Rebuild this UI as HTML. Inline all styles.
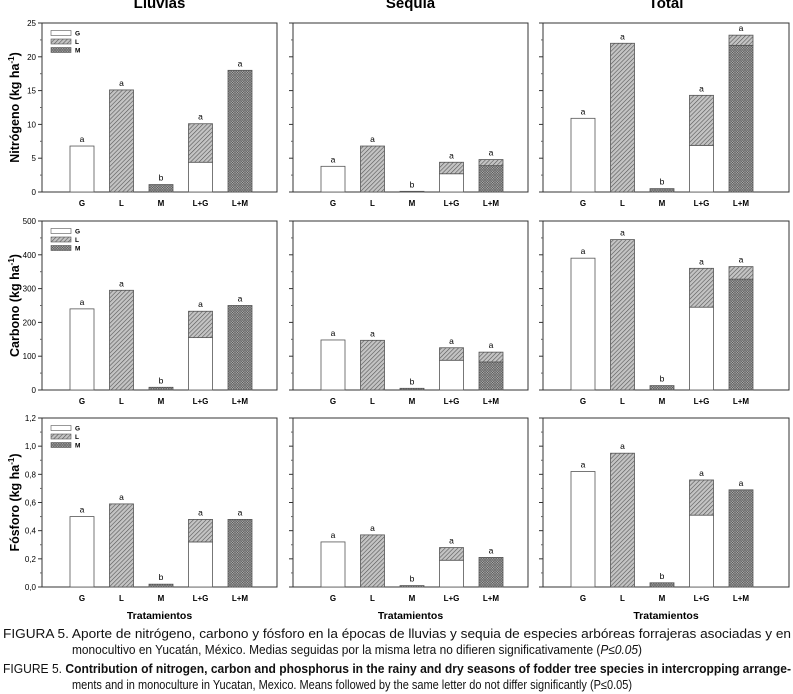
<!DOCTYPE html>
<html><head><meta charset="utf-8"><style>
body{margin:0;background:#fff}
svg{display:block;font-family:"Liberation Sans",sans-serif}
</style></head><body>
<svg id="fig" width="793" height="694" viewBox="0 0 793 694" xmlns="http://www.w3.org/2000/svg">
<defs>
<pattern id="patL" patternUnits="userSpaceOnUse" width="3" height="3" patternTransform="rotate(45)">
<rect width="3" height="3" fill="#c4c4c4"/><line x1="0" y1="0" x2="0" y2="3" stroke="#555" stroke-width="1.2"/></pattern>
<pattern id="patM" patternUnits="userSpaceOnUse" width="2.5" height="2.5">
<rect width="2.5" height="2.5" fill="#b0b0b0"/><path d="M0 2.5L2.5 0M0 0L2.5 2.5" stroke="#555" stroke-width="0.6"/></pattern>
</defs>
<g id="charts"></g>
<g font-size="12.5" fill="#111">
<text x="3" y="638" textLength="788" lengthAdjust="spacingAndGlyphs">FIGURA 5. Aporte de nitrógeno, carbono y fósforo en la épocas de lluvias y sequia de especies arbóreas forrajeras asociadas y en</text>
<text x="72" y="654" textLength="570" lengthAdjust="spacingAndGlyphs">monocultivo en Yucatán, México. Medias seguidas por la misma letra no difieren significativamente (<tspan font-style="italic">P≤0.05</tspan>)</text>
<text x="3" y="673" textLength="788" lengthAdjust="spacingAndGlyphs">FIGURE 5. <tspan font-weight="bold">Contribution of nitrogen, carbon and phosphorus in the rainy and dry seasons of fodder tree species in intercropping arrange-</tspan></text>
<text x="72" y="689" textLength="560" lengthAdjust="spacingAndGlyphs">ments and in monoculture in Yucatan, Mexico. Means followed by the same letter do not differ significantly (P≤0.05)</text>
</g>
</svg>
<script>
const categories=["G","L","M","L+G","L+M"];
const columnTitles=["Lluvias","Sequia","Total"];
const rowTitles=["Nitrógeno","Carbono","Fósforo"];
const rowMax=[25,500,1.2];
const rowStep=[5,100,0.2];
const rowTickLabels=[["0","5","10","15","20","25"],["0","100","200","300","400","500"],["0,0","0,2","0,4","0,6","0,8","1,0","1,2"]];
// per bar: [G part, M part, L part]
const nitro=[
 [[6.8,0,0],[0,0,15.1],[0,1.1,0],[4.4,0,5.7],[0,18.0,0]],
 [[3.8,0,0],[0,0,6.8],[0,0.1,0],[2.7,0,1.7],[0,3.9,0.9]],
 [[10.9,0,0],[0,0,22.0],[0,0.5,0],[6.9,0,7.4],[0,21.7,1.5]]];
const carbon=[
 [[240,0,0],[0,0,295],[0,8,0],[155,0,78],[0,250,0]],
 [[148,0,0],[0,0,147],[0,5,0],[88,0,37],[0,83,29]],
 [[390,0,0],[0,0,445],[0,13,0],[245,0,115],[0,328,37]]];
const phos=[
 [[0.50,0,0],[0,0,0.59],[0,0.02,0],[0.32,0,0.16],[0,0.48,0]],
 [[0.32,0,0],[0,0,0.37],[0,0.01,0],[0.19,0,0.09],[0,0.21,0]],
 [[0.82,0,0],[0,0,0.95],[0,0.03,0],[0.51,0,0.25],[0,0.69,0]]];
const letters=["a","a","b","a","a"];
const rows=[nitro,carbon,phos];
const NS="http://www.w3.org/2000/svg";
const root=document.getElementById('charts');
const colX=[[42,277],[293,528],[543,789]];
const rowY=[[23,192],[221,390],[418,587]];
function mk(tag,attrs,parent,text){const e=document.createElementNS(NS,tag);for(const k in attrs)e.setAttribute(k,attrs[k]);if(text!==undefined)e.textContent=text;(parent||root).appendChild(e);return e;}
function xBand(c,i){return colX[c][0]+40+i*39.5;}
function yScale(r,v){const [t,b]=rowY[r];return b-(v/rowMax[r])*(b-t);}
columnTitles.forEach((t,c)=>{
 const e=mk('text',{x:(colX[c][0]+colX[c][1])/2,y:8,'text-anchor':'middle','font-size':'15','font-weight':'bold'},root,t);
 
 
});
for(let r=0;r<3;r++){
 const [t,b]=rowY[r];
 const yt=mk('text',{transform:`translate(19,${(t+b)/2}) rotate(-90)`,'text-anchor':'middle','font-size':'12.5','font-weight':'bold'},root);
 
 
 yt.innerHTML=rowTitles[r]+' (kg ha<tspan dy="-5" font-size="8">-1</tspan><tspan dy="5">)</tspan>';
 for(let c=0;c<3;c++){
  const [x0,x1]=colX[c];
  const g=mk('g',{});
  
  
  const fr=mk('rect',{x:x0,y:t,width:x1-x0,height:b-t,fill:'none',stroke:'#333','stroke-width':'1'},g);
  
  
  const n=Math.round(rowMax[r]/rowStep[r]);
  for(let k=0;k<=n;k++){
   const y=yScale(r,k*rowStep[r]);
   mk('line',{x1:x0-4,x2:x0,y1:y,y2:y,stroke:'#333'},g);
   if(k<n){const ym=yScale(r,(k+0.5)*rowStep[r]);mk('line',{x1:x0-2,x2:x0,y1:ym,y2:ym,stroke:'#666'},g);}
   if(c===0){const tl=mk('text',{x:x0-6,y:y+3,'text-anchor':'end','font-size':'8'},g,rowTickLabels[r][k]);
    
    }
  }
  rows[r][c].forEach((seg,i)=>{
   const cx=xBand(c,i),w=24;
   let acc=0;
   const order=[[seg[0],'#fff'],[seg[1],'url(#patM)'],[seg[2],'url(#patL)']];
   order.forEach(([v,f],j)=>{
    if(v<=0)return;
    const y1=yScale(r,acc+v),y0=yScale(r,acc);
    const br=mk('rect',{x:cx-w/2,y:y1,width:w,height:Math.max(0.8,y0-y1),fill:f,stroke:'#555','stroke-width':'0.8'},g);
    
    
    acc+=v;
   });
   const lt=mk('text',{x:cx,y:yScale(r,acc)-4,'text-anchor':'middle','font-size':'8.5'},g,letters[i]);
   
   
   const xl=mk('text',{x:cx,y:b+14,'text-anchor':'middle','font-size':'8','font-weight':'bold'},g,categories[i]);
   
   
  });
  if(c===0){
   const lg=mk('g',{},g);
   
   
   [['G','#fff'],['L','url(#patL)'],['M','url(#patM)']].forEach(([lab,f],k)=>{
    const ly=t+10+k*8.5;
    mk('rect',{x:x0+9,y:ly-2.5,width:20,height:5,fill:f,stroke:'#555','stroke-width':'0.6'},lg);
    const le=mk('text',{x:x0+33,y:ly+2.5,'font-size':'6.5','font-weight':'bold'},lg,lab);
    
    
   });
  }
  if(r===2){
   const xt=mk('text',{x:(x0+x1)/2,y:619,'text-anchor':'middle','font-size':'10.5','font-weight':'bold'},g,'Tratamientos');
   
   
  }
 }
}
</script>
</body></html>
